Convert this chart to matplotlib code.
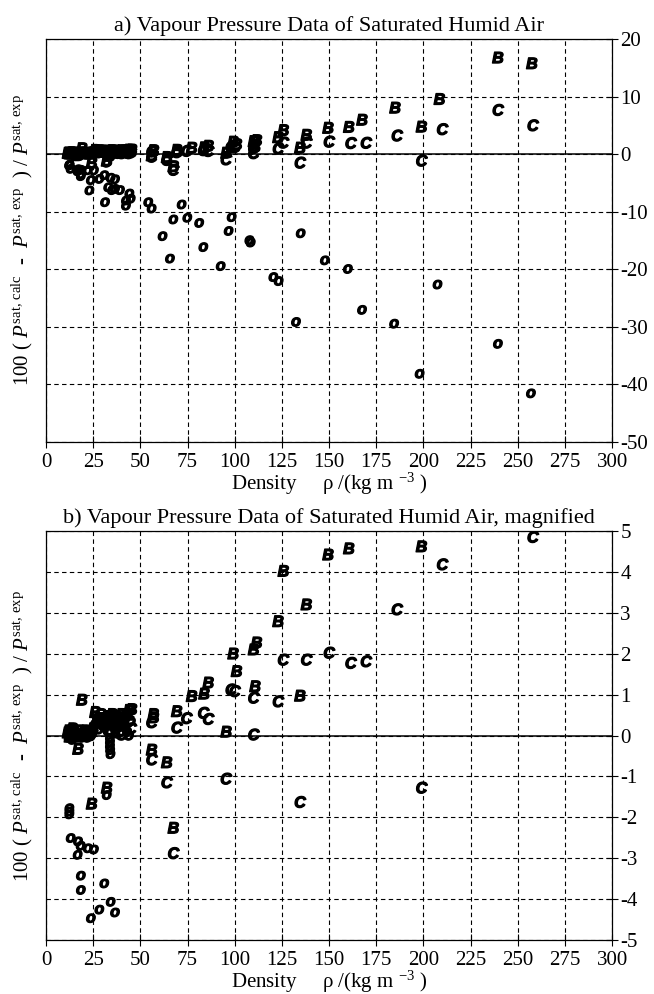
import matplotlib
matplotlib.use("Agg")
import matplotlib.pyplot as plt
import matplotlib.patheffects as pe
import numpy as np

plt.rcParams['font.family'] = ['Liberation Serif', 'DejaVu Serif']
plt.rcParams['mathtext.fontset'] = 'custom'
plt.rcParams['mathtext.rm'] = 'Liberation Serif'
plt.rcParams['mathtext.it'] = 'Liberation Serif:italic'
plt.rcParams['axes.unicode_minus'] = False

# deviation data, density in kg/m3, deviation in percent
b_rho = [11.5, 12, 12.5, 13, 13.5, 14, 15, 16.5, 17, 18, 19, 20, 21, 22, 23, 24, 24.2, 25, 26, 28, 29, 30, 31,
         32.2, 33, 34, 35, 36, 37, 38, 39, 40, 41, 42, 43, 44, 45.4,
         56, 56.9, 57, 64, 67.5, 69.3, 77.2, 83.8, 86, 95.5, 99.2, 101, 110, 110.8, 111.6, 123, 125.8,
         134.6, 138, 149.5, 160.5, 167.5, 185, 199, 208.5, 239.5, 257.5]
b_dev = [0.05, 0.1, -0.05, 0.0, 0.1, 0.15, 0.05, -0.05, -0.35, 0.1, 0.85, 0.05, 0.1, 0.0, -0.02, 0.05, -1.69, 0.15, 0.55, 0.35,
         0.5, 0.4, 0.3, -1.3, 0.45, 0.35, 0.5, 0.4, 0.45, 0.35, 0.25, 0.5, 0.35, 0.45, 0.5, 0.6, 0.62,
         -0.37, 0.5, 0.42, -0.68, -2.28, 0.57, 0.94, 1.0, 1.27, 0.07, 1.98, 1.55, 2.08, 1.18, 2.25, 2.77, 4.0,
         0.95, 3.18, 4.4, 4.55, 5.8, 7.9, 4.6, 9.4, 16.6, 15.6]

c_rho = [30, 33, 36, 38, 40, 42, 43, 44, 45, 56, 56, 64, 67.5, 69.3, 74.5, 83.4, 86, 95.4, 98, 100, 110, 110,
         123, 125.7, 134.6, 138, 150, 161.5, 169.6, 186, 199, 210, 239.5, 258]
c_dev = [0.25, 0.1, 0.2, 0.05, 0.0, 0.3, 0.3, 0.5, 0.15, 0.3, -0.61, -1.17, -2.9, 0.17, 0.4, 0.53, 0.38, -1.08, 1.1, 1.06, 0.9, 0.0,
         0.81, 1.83, -1.65, 1.83, 2.0, 1.75, 1.79, 3.06, -1.3, 4.16, 7.5, 4.83]

o_rho = [11.5, 12, 12.5, 13, 14, 15, 16, 17, 18, 19, 20, 21, 22, 23, 24, 25, 26, 27, 28, 29, 30, 31, 32,
         33.9, 33.9, 33.9, 33.9, 34, 34.2, 35, 36, 37, 38, 39, 40, 41, 42, 43, 44, 45, 32.2,
         12.4, 12.4, 12.4, 13.1, 17, 18.4, 22.2, 25.4, 16.8, 18.5, 18.5, 30.9, 34.3, 36.6, 28.3, 23.8,
         23, 31.3, 33, 35, 36.6, 39.2, 42.4, 42.4, 44.9, 44.2, 54.2, 56, 71.9, 67.5, 74.9, 61.8, 81.2,
         83.4, 65.7, 98.4, 96.8, 107.8, 108.5, 92.6, 120.5, 123.3, 135, 132.5, 147.8, 160, 167.5, 184.5,
         198, 207.5, 239.5, 257]
o_dev = [0.05, -0.05, 0.15, 0.0, -0.1, 0.1, 0.05, 0.0, 0.0, -0.05, 0.1, 0.0, -0.05, 0.05, 0.0, 0.1, 0.3, 0.45, 0.15, 0.4,
         0.35, 0.2, 0.3, 0.1, -0.05, -0.15, -0.25, -0.35, -0.45, 0.3, 0.25, 0.15, 0.3, 0.4, 0.1, 0.3, 0.2, 0.1, 0.0, 0.35, -1.45,
         -1.77, -1.85, -1.92, -2.5, -2.58, -2.69, -2.75, -2.78, -2.91, -3.42, -3.77, -3.61, -4.06, -4.32, -4.25, -4.46,
         -6.25, -8.3, -5.7, -6.2, -6.0, -6.2, -8.0, -8.9, -7.7, -6.8, -8.3, -9.4, -8.7, -11.3, -11.0, -14.2, -11.9,
         -16.1, -18.1, -10.9, -13.3, -14.9, -15.3, -19.4, -21.3, -22.0, -13.7, -29.1, -18.4, -19.9, -27.0, -29.4,
         -38.1, -22.6, -32.9, -41.5]

xticks = np.arange(0, 301, 25)
ylab = r'100 ( $P^{\mathrm{sat,\,calc}}$  -  $P^{\mathrm{sat,\,exp}}$  ) / $P^{\mathrm{sat,\,exp}}$'
xlab = r'Density     ρ /(kg m $^{\mathrm{-3}}$ )'

fig = plt.figure(figsize=(6.54, 9.94), dpi=100)
ax1 = fig.add_axes([0.0703, 0.5553, 0.8656, 0.4055])
ax2 = fig.add_axes([0.0703, 0.0543, 0.8656, 0.4115])


def draw(ax, ylim, yticks, title):
    ax.set_xlim(0, 300)
    ax.set_ylim(*ylim)
    ax.set_xticks(xticks)
    ax.set_yticks(yticks)
    ax.grid(True, color='black', linestyle=(0, (4, 3)), linewidth=0.8)
    ax.axhline(0, color='black', linewidth=1.1, zorder=2)
    ax.yaxis.tick_right()
    ax.yaxis.set_label_position('left')
    ax.tick_params(axis='both', direction='inout', length=8, width=0.8, labelsize=15, pad=2)
    ax.tick_params(axis='x', pad=4)
    for s in ax.spines.values():
        s.set_linewidth(0.9)
    ax.set_title(title, fontsize=16, pad=6)
    ax.set_xlabel(xlab, fontsize=15, labelpad=-1)
    ax.set_ylabel(ylab, fontsize=15, labelpad=8)
    kw = dict(ha='center', va='center', fontsize=11.5, fontweight='bold', fontstyle='italic',
              family='Liberation Sans', clip_on=True, zorder=3,
              path_effects=[pe.withStroke(linewidth=0.9, foreground='black')])
    for letter, xs, ys in (('B', b_rho, b_dev), ('C', c_rho, c_dev), ('o', o_rho, o_dev)):
        for x, y in zip(xs, ys):
            if ylim[0] <= y <= ylim[1]:
                ax.text(x, y, letter, **kw)


draw(ax1, (-50, 20), np.arange(-50, 21, 10), 'a) Vapour Pressure Data of Saturated Humid Air')
draw(ax2, (-5, 5), np.arange(-5, 6, 1), 'b) Vapour Pressure Data of Saturated Humid Air, magnified')

fig.savefig('out.png', dpi=100)
